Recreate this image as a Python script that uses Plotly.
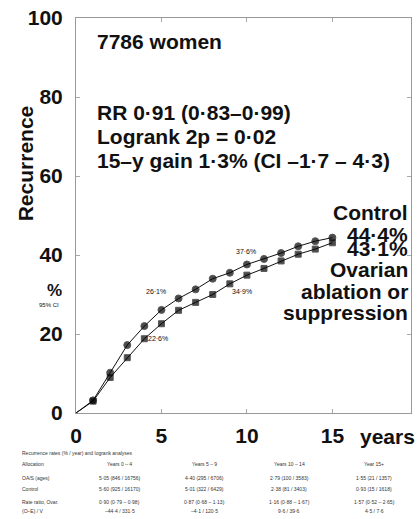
import plotly.graph_objects as go

years = list(range(0, 16))
control = [0, 3.2, 10.2, 17.2, 22.0, 26.1, 29.0, 31.3, 34.0, 35.5, 37.6, 39.0, 40.5, 42.2, 43.5, 44.4]
ovarian = [0, 3.0, 9.0, 14.0, 18.8, 22.6, 26.0, 28.0, 30.0, 32.7, 34.9, 36.6, 38.5, 40.2, 41.5, 43.1]
x_ticks = [0, 5, 10, 15]
y_ticks = [0, 20, 40, 60, 80, 100]

stats_lines = ["7786 women", "RR 0·91 (0·83–0·99)", "Logrank 2p = 0·02", "15–y gain 1·3% (CI –1·7 – 4·3)"]

table_title = "Recurrence rates (% / year) and logrank analyses"
table_cols = ["Allocation", "Years 0 – 4", "Years 5 – 9", "Years 10 – 14", "Year 15+"]
table_rows = [
    ["OA/S (ages)", "5·05 (846 / 16756)", "4·40 (295 / 6706)", "2·79 (100 / 3583)", "1·55 (21 / 1357)"],
    ["Control", "5·60 (925 / 16170)", "5·01 (322 / 6429)", "2·38 (81 / 3403)", "0·93 (15 / 1618)"],
    ["Rate ratio, Ovar.", "0·90 (0·79 – 0·98)", "0·87 (0·68 – 1·13)", "1·16 (0·88 – 1·67)", "1·57 (0·52 – 2·65)"],
    ["(O–E) / V", "–44·4 / 331·5", "–4·1 / 120·5", "9·6 / 39·6", "4·5 / 7·6"],
]

def fmt(v):
    return f"{v:.1f}%".replace(".", "·")

W, H = 418, 519
L, R, T, B = 76, 6, 13, 106
FONT = "Liberation Sans, Arial, sans-serif"

fig = go.Figure()
fig.add_trace(go.Scatter(x=years, y=control, mode="lines+markers",
                         line=dict(color="#111", width=1),
                         marker=dict(symbol="circle", size=[0] + [7] * (len(years) - 1), color="#000"),
                         showlegend=False, cliponaxis=False))
fig.add_trace(go.Scatter(x=years, y=ovarian, mode="lines+markers",
                         line=dict(color="#111", width=1),
                         marker=dict(symbol="square", size=[0] + [6] * (len(years) - 1), color="#000"),
                         showlegend=False, cliponaxis=False))

ann = []
def px_x(px):
    return (px - L) / (W - L - R)
def px_y(py):
    return (H - B - py) / (H - T - B)

def add(text, px, py, font, xanchor="center", **kw):
    ann.append(dict(text=text, x=px_x(px), y=px_y(py), xref="paper", yref="paper",
                    xanchor=xanchor, yanchor="middle", showarrow=False, font=font, **kw))

big = dict(family=FONT, size=21, color="#111", weight="bold")
small = dict(family=FONT, size=7, color="#111")

# stats text
for t, py in zip(stats_lines, [37, 109, 133, 157]):
    add(t, 95, py, big, xanchor="left")

# point labels
for xv, yv, dx, dy in [(5, control[5], -5, 18), (5, ovarian[5], -3, -15),
                        (10, control[10], -1, 13), (10, ovarian[10], -5, -16)]:
    ann.append(dict(text=fmt(yv), x=xv, y=yv, xref="x", yref="y", xshift=dx, yshift=dy,
                    xanchor="center", yanchor="middle", showarrow=False, font=small))

# right labels
for t, py in [("Control", 210), (fmt(control[-1]), 232), (fmt(ovarian[-1]), 246),
              ("Ovarian", 268), ("ablation or", 290), ("suppression", 311)]:
    add(t, 411, py, big, xanchor="right")

# axis titles
add("Recurrence", 25, 160, big, textangle=-90)
add("%", 54, 289, dict(family=FONT, size=17, color="#111", weight="bold"))
add("95% CI", 49, 304, dict(family=FONT, size=6, color="#111"))
add("years", 388, 437, big)

# table
tf = dict(family=FONT, size=5, color="#333")
add(table_title, 20, 453, tf, xanchor="left")
col_x = [20, 120, 205, 290, 375]
row_y = [479, 490, 503, 512]
for j, c in enumerate(table_cols):
    add(c, col_x[j], 465, tf, xanchor="left" if j == 0 else "center")
for i, row in enumerate(table_rows):
    for j, c in enumerate(row):
        add(c, col_x[j], row_y[i], tf, xanchor="left" if j == 0 else "center")

axis_common = dict(showline=True, linecolor="#999", linewidth=1, mirror="ticks",
                   ticks="inside", ticklen=4, tickcolor="#aaa", showgrid=False, zeroline=False,
                   tickfont=dict(family=FONT, size=21, color="#111", weight="bold"))
fig.update_layout(
    width=W, height=H, margin=dict(l=L, r=R, t=T, b=B),
    paper_bgcolor="white", plot_bgcolor="white",
    xaxis=dict(range=[0, 19.6], tickvals=x_ticks, ticklabelstandoff=4, **axis_common),
    yaxis=dict(range=[0, 100], tickvals=y_ticks, ticklabelstandoff=8, **axis_common),
    annotations=ann,
)
fig.write_html("out.html")
